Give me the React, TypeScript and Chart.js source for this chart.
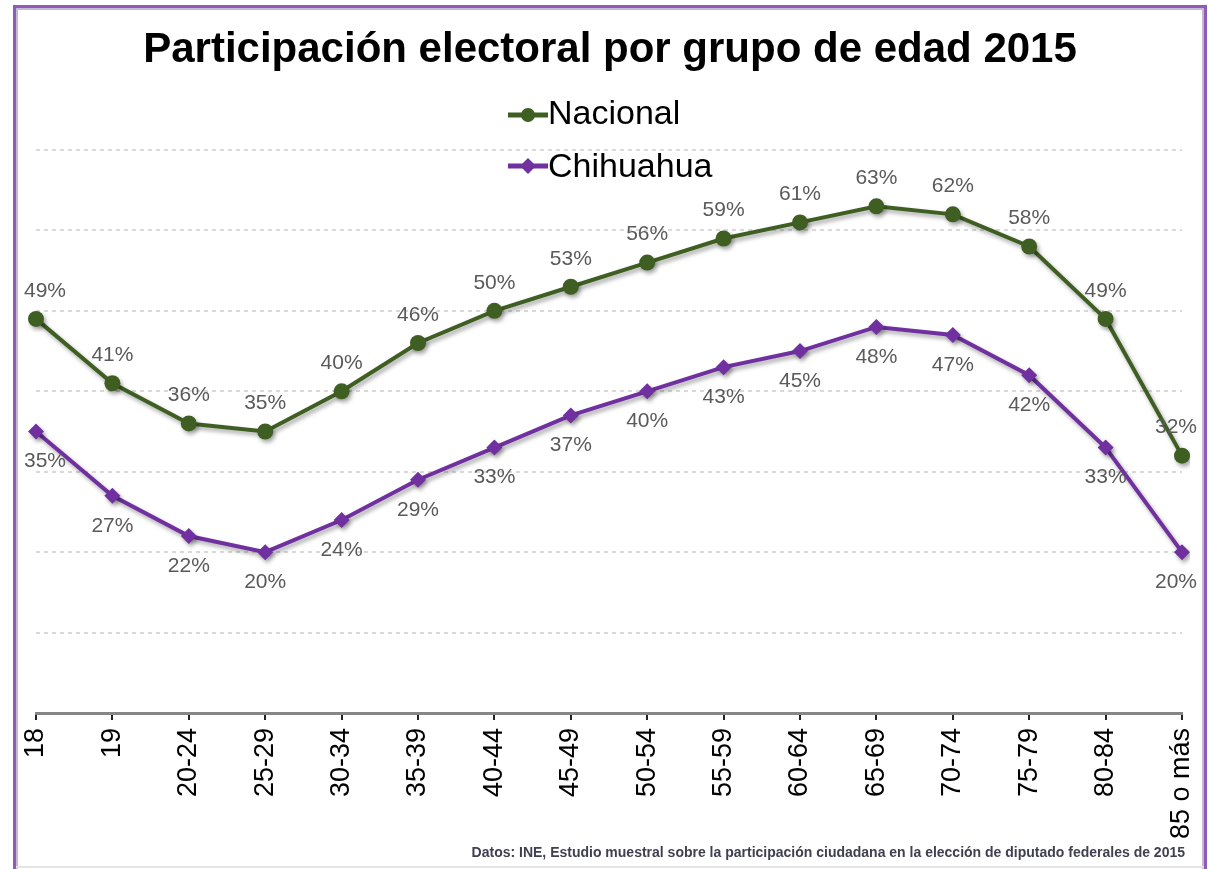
import React, { useEffect, useRef } from "react";
import { Chart, registerables } from "chart.js";

Chart.register(...registerables);

const categories = ["18", "19", "20-24", "25-29", "30-34", "35-39", "40-44", "45-49", "50-54", "55-59", "60-64", "65-69", "70-74", "75-79", "80-84", "85 o más"];
const nacional = [49, 41, 36, 35, 40, 46, 50, 53, 56, 59, 61, 63, 62, 58, 49, 32];
const chihuahua = [35, 27, 22, 20, 24, 29, 33, 37, 40, 43, 45, 48, 47, 42, 33, 20];
const seriesNames = ["Nacional", "Chihuahua"];
const titleText = "Participación electoral por grupo de edad 2015";
const sourceText = "Datos: INE, Estudio muestral sobre la participación ciudadana en la elección de diputado federales de 2015";

const FONT = '"Liberation Sans", Arial, sans-serif';
const GREEN = "#3f5f22";
const PURPLE = "#7030a0";

const overlayPlugin = {
  id: "overlay",
  beforeDatasetsDraw(chart: any) {
    const ctx = chart.ctx;
    ctx.save();
    ctx.shadowColor = "rgba(0,0,0,0.35)";
    ctx.shadowBlur = 4;
    ctx.shadowOffsetX = 2;
    ctx.shadowOffsetY = 3;
  },
  afterDatasetsDraw(chart: any) {
    const ctx = chart.ctx;
    ctx.restore();
    ctx.save();
    ctx.font = `21px ${FONT}`;
    ctx.fillStyle = "#5a5a5a";
    ctx.textAlign = "center";
    ctx.textBaseline = "middle";
    chart.data.datasets.forEach((ds: any, i: number) => {
      const meta = chart.getDatasetMeta(i);
      meta.data.forEach((pt: any, j: number) => {
        const txt = ds.data[j] + "%";
        const w = ctx.measureText(txt).width;
        const x = Math.min(Math.max(pt.x, 24 + w / 2), 1197 - w / 2);
        const y = i === 0 ? pt.y - 28 : pt.y + 30;
        ctx.fillText(txt, x, y);
      });
    });
    ctx.restore();
  },
  afterDraw(chart: any) {
    const ctx = chart.ctx;
    ctx.save();
    // Title
    ctx.font = `bold 42px ${FONT}`;
    ctx.fillStyle = "#000";
    ctx.textAlign = "center";
    ctx.textBaseline = "alphabetic";
    ctx.fillText(titleText, 610, 62);
    // Legend
    const items = [
      { name: seriesNames[0], color: GREEN, y: 115, base: 124, shape: "circle" },
      { name: seriesNames[1], color: PURPLE, y: 166, base: 177, shape: "diamond" },
    ];
    items.forEach((it) => {
      ctx.strokeStyle = it.color;
      ctx.fillStyle = it.color;
      ctx.lineWidth = 5;
      ctx.beginPath();
      ctx.moveTo(508, it.y);
      ctx.lineTo(548, it.y);
      ctx.stroke();
      ctx.beginPath();
      if (it.shape === "circle") {
        ctx.arc(528, it.y, 7, 0, Math.PI * 2);
      } else {
        ctx.moveTo(528, it.y - 8);
        ctx.lineTo(536, it.y);
        ctx.lineTo(528, it.y + 8);
        ctx.lineTo(520, it.y);
        ctx.closePath();
      }
      ctx.fill();
      ctx.fillStyle = "#000";
      ctx.font = `34px ${FONT}`;
      ctx.textAlign = "left";
      ctx.fillText(it.name, 548, it.base);
    });
    // Source
    ctx.font = `bold 14px ${FONT}`;
    ctx.fillStyle = "#404050";
    ctx.textAlign = "right";
    ctx.fillText(sourceText, 1185, 857, 793);
    ctx.restore();
  },
};

export default function App() {
  const ref = useRef<HTMLCanvasElement | null>(null);
  useEffect(() => {
    if (!ref.current) return;
    const chart = new Chart(ref.current, {
      type: "line",
      data: {
        labels: categories,
        datasets: [
          {
            label: seriesNames[0],
            data: nacional,
            borderColor: GREEN,
            backgroundColor: GREEN,
            borderWidth: 4,
            pointRadius: 8,
            pointStyle: "circle",
            pointBorderWidth: 0,
            tension: 0,
          },
          {
            label: seriesNames[1],
            data: chihuahua,
            borderColor: PURPLE,
            backgroundColor: PURPLE,
            borderWidth: 4,
            pointRadius: 8,
            pointStyle: "rectRot",
            pointBorderWidth: 0,
            tension: 0,
          },
        ],
      },
      options: {
        responsive: false,
        animation: false,
        devicePixelRatio: 1,
        layout: { padding: { left: 36, right: 26, top: 150, bottom: 0 } },
        plugins: {
          legend: { display: false },
          title: { display: false },
          tooltip: { enabled: false },
        },
        scales: {
          x: {
            offset: false,
            grid: {
              display: true,
              drawOnChartArea: false,
              drawTicks: true,
              tickLength: 7,
              color: "#222",
              lineWidth: 2,
            },
            border: { display: true, color: "#868686", width: 3 },
            ticks: {
              autoSkip: false,
              minRotation: 90,
              maxRotation: 90,
              padding: 8,
              color: "#000",
              font: { family: FONT, size: 27 },
            },
            afterFit(scale: any) {
              scale.height = 156;
              scale.paddingLeft = 0;
              scale.paddingRight = 0;
            },
          },
          y: {
            min: 0,
            max: 70,
            ticks: { display: false, stepSize: 10 },
            grid: {
              drawTicks: false,
              lineWidth: 2,
              color: (c: any) => (c.tick && c.tick.value === 0 ? "rgba(0,0,0,0)" : "#d9d9d9"),
            },
            border: { display: false, dash: [4, 4] },
          },
        },
      },
      plugins: [overlayPlugin],
    } as any);
    return () => chart.destroy();
  }, []);

  return (
    <div style={{ position: "fixed", left: 0, top: 0, width: 1208, height: 869, background: "#fff", overflow: "hidden" }}>
      <canvas ref={ref} width={1208} height={869} style={{ position: "absolute", left: 0, top: 0, width: 1208, height: 869 }} />
      <div
        style={{
          position: "absolute",
          left: 13,
          top: 5,
          width: 1194,
          height: 900,
          boxSizing: "border-box",
          borderTop: "3px solid #8e5cb8",
          borderLeft: "3px solid #8e5cb8",
          borderRight: "3px solid #8e5cb8",
          boxShadow: "inset 2px 2px 0 0 #c5b8d0, inset -2px 0 0 0 #c5b8d0",
          pointerEvents: "none",
        }}
      />
      <div style={{ position: "absolute", left: 16, top: 866, width: 1188, height: 2, background: "#e4e4e4" }} />
    </div>
  );
}
